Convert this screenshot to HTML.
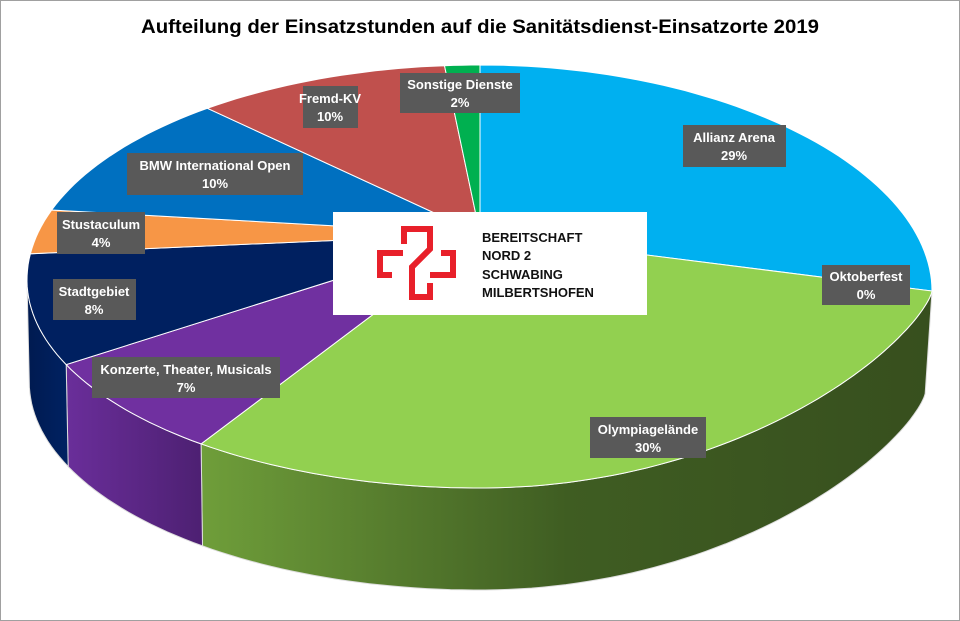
<!DOCTYPE html>
<html><head><meta charset="utf-8"><style>
body{margin:0;background:#fff}
svg{display:block}
text{font-family:"Liberation Sans",Arial,sans-serif}
.lb{fill:#fff;font-weight:bold;font-size:13px;text-anchor:middle}
</style></head><body>
<svg id="s" width="960" height="621" viewBox="0 0 960 621" xmlns="http://www.w3.org/2000/svg">
<defs>
<linearGradient id="gOly" x1="0" x2="1" y1="0" y2="0"><stop offset="0" stop-color="#6f9e3a"/><stop offset="0.5" stop-color="#3f5d22"/><stop offset="1" stop-color="#374f1e"/></linearGradient>
<linearGradient id="gKon" x1="0" x2="1"><stop offset="0" stop-color="#6a2e9a"/><stop offset="1" stop-color="#4d2072"/></linearGradient>
<linearGradient id="gSta" x1="0" x2="1"><stop offset="0" stop-color="#001a50"/><stop offset="1" stop-color="#002262"/></linearGradient>
</defs>
<rect x="0.5" y="0.5" width="959" height="620" fill="#fff" stroke="#a0a0a0"/>
<text x="480" y="33" text-anchor="middle" font-weight="bold" font-size="19" textLength="678" lengthAdjust="spacingAndGlyphs">Aufteilung der Einsatzstunden auf die Sanitätsdienst-Einsatzorte 2019</text>
<g id="pie"></g>
<rect x="333" y="212" width="314" height="103" fill="#fff"/>
<g fill="none" stroke="#e8202a" stroke-width="6" stroke-linejoin="miter">
<polyline points="404,244 404,229 430,229 430,249 412,267 412,297 430,297 430,283"/>
<polyline points="403,253 380,253 380,275 392,275"/>
<polyline points="441,253 453,253 453,275 430,275"/>
</g>
<g font-weight="bold" font-size="13" fill="#111">
<text x="482" y="242">BEREITSCHAFT</text>
<text x="482" y="260">NORD 2</text>
<text x="482" y="279">SCHWABING</text>
<text x="482" y="297">MILBERTSHOFEN</text>
</g>
<g id="labels">
<rect x="400" y="73" width="120" height="40" fill="#595959"/><text class="lb" x="460" y="89">Sonstige Dienste</text><text class="lb" x="460" y="107">2%</text>
<rect x="303" y="86" width="55" height="42" fill="#595959"/><text class="lb" x="330" y="103">Fremd-KV</text><text class="lb" x="330" y="121">10%</text>
<rect x="683" y="125" width="103" height="42" fill="#595959"/><text class="lb" x="734" y="142">Allianz Arena</text><text class="lb" x="734" y="160">29%</text>
<rect x="127" y="153" width="176" height="42" fill="#595959"/><text class="lb" x="215" y="170">BMW International Open</text><text class="lb" x="215" y="188">10%</text>
<rect x="57" y="212" width="88" height="42" fill="#595959"/><text class="lb" x="101" y="229">Stustaculum</text><text class="lb" x="101" y="247">4%</text>
<rect x="53" y="279" width="83" height="41" fill="#595959"/><text class="lb" x="94" y="296">Stadtgebiet</text><text class="lb" x="94" y="314">8%</text>
<rect x="822" y="265" width="88" height="40" fill="#595959"/><text class="lb" x="866" y="281">Oktoberfest</text><text class="lb" x="866" y="299">0%</text>
<rect x="92" y="357" width="188" height="41" fill="#595959"/><text class="lb" x="186" y="374">Konzerte, Theater, Musicals</text><text class="lb" x="186" y="392">7%</text>
<rect x="590" y="417" width="116" height="41" fill="#595959"/><text class="lb" x="648" y="434">Olympiagelände</text><text class="lb" x="648" y="452">30%</text>
</g>
</svg>
<script>
(function(){
var cx=480,cy=280,pcx=480,pcy=234;
var sl=[[0,90,"#00b0f0",null],[90,218,"#92d050","url(#gOly)"],[218,246,"#7030a0","url(#gKon)"],[246,277,"#002060","url(#gSta)"],[277,289,"#f79646",null],[289,323,"#0070c0",null],[323,355.5,"#c0504d",null],[355.5,360,"#00b050",null]];
function P(t,bot){var r=t*Math.PI/180,s=Math.sin(r),c=Math.cos(r),x,dy;
 var rx=s>0?452:453; if(bot) rx*= s>0?0.985:0.995;
 x=cx+rx*s;
 if(c<0){ if(s>0) dy=11*s*s+208*Math.pow(-c,1.5); else dy=208*(-c);}
 else dy=-215*c+11*Math.max(s,0)*Math.max(s,0);
 var y=cy+dy+(bot?102:0);
 return [x.toFixed(1),y.toFixed(1)];}
function arc(a,b,bot){var s="",n=Math.max(4,Math.ceil((b-a)/1.5));for(var i=0;i<=n;i++){var p=P(a+(b-a)*i/n,bot);s+=(i?" L":"")+p[0]+","+p[1];}return s;}
function arcR(a,b,bot){var s="",n=Math.max(4,Math.ceil((b-a)/1.5));for(var i=n;i>=0;i--){var p=P(a+(b-a)*i/n,bot);s+=" L"+p[0]+","+p[1];}return s;}
var g=document.getElementById("pie"),h="";
sl.forEach(function(s){if(!s[3])return;var a=Math.max(s[0],90),b=Math.min(s[1],270);if(b<=a)return;
h+='<path d="M'+arc(a,b,false)+arcR(a,b,true)+' Z" fill="'+s[3]+'" stroke="#ddd" stroke-width="1"/>';});
sl.forEach(function(s){h+='<path d="M'+pcx+','+pcy+' L'+arc(s[0],s[1],false)+' Z" fill="'+s[2]+'" stroke="#fff" stroke-width="1"/>';});
g.innerHTML=h;
})();
</script>
</body></html>
